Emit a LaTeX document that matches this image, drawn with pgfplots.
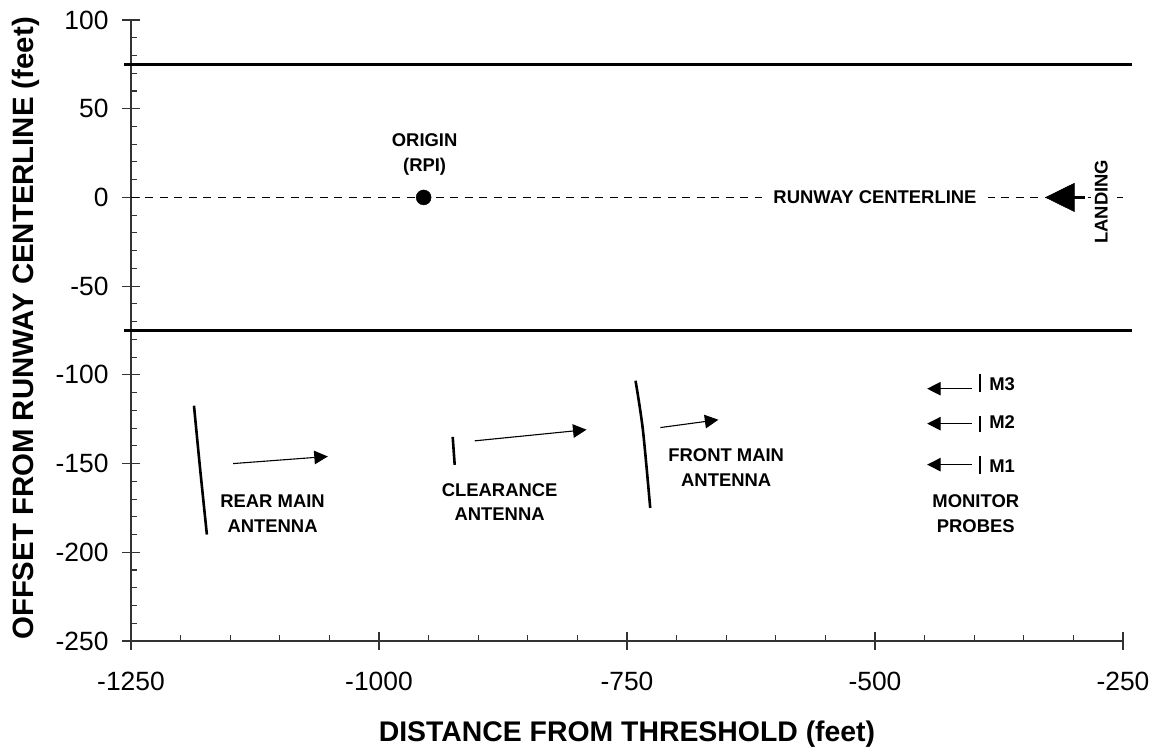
\documentclass[border=0pt]{standalone}
\usepackage{fontspec}
\setmainfont{Liberation Sans}
\usepackage{pgfplots}
\pgfplotsset{compat=1.18}
\usetikzlibrary{arrows.meta}
\tikzset{
 ann/.style={font=\fontsize{18.5}{25}\selectfont\bfseries, align=center, inner sep=0pt},
 arr/.style={black, line width=1.1bp, -{Triangle[length=13.5bp,width=13.5bp]}},
 ant/.style={black, line width=2.6bp},
}
\begin{document}
\begin{tikzpicture}
\begin{axis}[
 name=ax,
 scale only axis, width=992bp, height=621bp,
 xmin=-1250, xmax=-250, ymin=-250, ymax=100,
 axis lines=left, axis line style={-, line width=1.1bp, black!80},
 xtick={-1250,-1000,...,-250}, ytick={-250,-200,...,100},
 minor x tick num=4, minor y tick num=4,
 tick align=center, major tick length=18bp, minor tick length=6bp,
 every tick/.style={black!80, line width=1.1bp},
 every minor x tick/.append style={yshift=3bp},
 every minor y tick/.append style={xshift=3bp},
 ticklabel style={font=\fontsize{26.5}{30}\selectfont},
 xticklabel style={yshift=-19bp},
 yticklabel style={xshift=-10bp},
 /pgf/number format/assume math mode=true,
 /pgf/number format/1000 sep={},
 xlabel={DISTANCE FROM THRESHOLD (feet)},
 ylabel={OFFSET FROM RUNWAY CENTERLINE (feet)},
 every axis x label/.style={at={(axis description cs:0.5,0)}, yshift=-100bp, anchor=base, font=\fontsize{28.5}{34}\selectfont\bfseries},
 every axis y label/.style={at={(axis description cs:0,0.5)}, xshift=-97.7bp, yshift=2bp, rotate=90, anchor=base, font=\fontsize{29.5}{34}\selectfont\bfseries},
 clip=false,
]
% runway edges
\addplot[black, line width=3bp] coordinates {(-1257,75) (-241,75)};
\addplot[black, line width=3bp] coordinates {(-1257,-75) (-241,-75)};
% centerline
\addplot[black, line width=1bp, dash pattern=on 8bp off 6.5bp] coordinates {(-1250,0) (-250,0)};
% origin
\addplot[only marks, mark=*, mark size=7.5bp, black] coordinates {(-955,0)};
% landing arrow
\addplot[black, fill=black, line width=0.5bp] coordinates {(-328,0) (-299,8) (-299,-8) (-328,0)};
\addplot[black, line width=3bp] coordinates {(-300,0) (-288,0)};
% rear main antenna
\addplot[ant, smooth] coordinates {(-1186.5,-117.4) (-1180.5,-152) (-1173.5,-190)};
\addplot[arr] coordinates {(-1147,-150) (-1051.6,-146)};
% clearance antenna
\addplot[ant] coordinates {(-925.7,-135) (-923.7,-150.7)};
\addplot[arr] coordinates {(-903.6,-137.2) (-790.8,-130.9)};
% front main antenna
\addplot[ant, smooth] coordinates {(-741.4,-103.3) (-734,-130.9) (-726.6,-175)};
\addplot[arr] coordinates {(-716.3,-129.7) (-657.9,-125.3)};
% monitor probes
\addplot[ant] coordinates {(-394.3,-99.4) (-394.3,-109.6)};
\addplot[ant] coordinates {(-394.3,-123.4) (-394.3,-132.1)};
\addplot[ant] coordinates {(-394.3,-145.5) (-394.3,-155.7)};
\addplot[arr] coordinates {(-402,-107.8) (-447.4,-107.8)};
\addplot[arr] coordinates {(-402,-127.5) (-447.4,-127.5)};
\addplot[arr] coordinates {(-402,-150.6) (-447.4,-150.6)};
% labels
\node[ann] at (axis cs:-954,24) {ORIGIN\\(RPI)};
\node[ann, fill=white, inner xsep=11bp, inner ysep=3bp] at (axis cs:-500,0) {RUNWAY CENTERLINE};
\node[ann, fill=white, rotate=90, inner xsep=2bp, inner ysep=4bp] at (axis cs:-272,-2.5) {LANDING};
\node[ann] at (axis cs:-1107.3,-178.2) {REAR MAIN\\ANTENNA};
\node[ann] at (axis cs:-878.4,-171.7) {CLEARANCE\\ANTENNA};
\node[ann] at (axis cs:-650,-152) {FRONT MAIN\\ANTENNA};
\node[ann] at (axis cs:-398.4,-178.3) {MONITOR\\PROBES};
\node[ann, anchor=west] at (axis cs:-384.9,-105.5) {M3};
\node[ann, anchor=west] at (axis cs:-384.9,-126.8) {M2};
\node[ann, anchor=west] at (axis cs:-384.9,-151.7) {M1};
\end{axis}
\pgfresetboundingbox
\path ([shift={(-131bp,-109bp)}]ax.south west) rectangle ([shift={(36bp,20bp)}]ax.north east);
\end{tikzpicture}
\end{document}
